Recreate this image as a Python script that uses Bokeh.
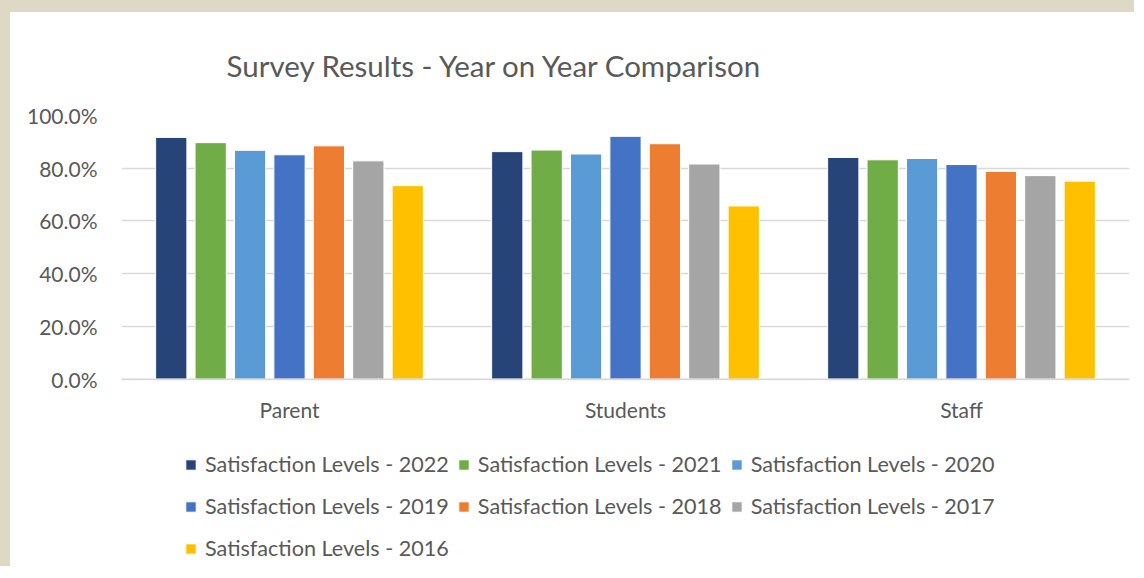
from bokeh.plotting import figure
from bokeh.models import (FactorRange, Range1d, ColumnDataSource, Legend, LegendItem,
                          FixedTicker, PrintfTickFormatter, Span)
from bokeh.core.properties import value
from bokeh.transform import dodge
from bokeh.embed import file_html
from bokeh.resources import INLINE

categories = ["Parent", "Students", "Staff"]
series_names = ["Satisfaction Levels - 2022", "Satisfaction Levels - 2021",
                "Satisfaction Levels - 2020", "Satisfaction Levels - 2019",
                "Satisfaction Levels - 2018", "Satisfaction Levels - 2017",
                "Satisfaction Levels - 2016"]
sat_2022 = [91.7, 86.3, 84.1]
sat_2021 = [89.7, 86.9, 83.2]
sat_2020 = [86.8, 85.4, 83.7]
sat_2019 = [85.1, 92.1, 81.4]
sat_2018 = [88.5, 89.3, 78.8]
sat_2017 = [82.8, 81.6, 77.2]
sat_2016 = [73.4, 65.7, 75.1]
y_ticks = [0, 20, 40, 60, 80, 100]

series_values = [sat_2022, sat_2021, sat_2020, sat_2019, sat_2018, sat_2017, sat_2016]
colors = ["#264478", "#70AD47", "#5B9BD5", "#4472C4", "#ED7D31", "#A5A5A5", "#FFC000"]
keys = ["s%d" % i for i in range(len(series_values))]

data = {"cat": categories}
for k, v in zip(keys, series_values):
    data[k] = v
source = ColumnDataSource(data)

FONT = "Lato"
TXT = "#595959"
BEIGE = "#DDD9C4"
BL, BT = 10, 12                     # beige border widths
W, H = 1144 - BL, 578 - BT
TOP, LEFT, RIGHT = 104 - BT, 121 - BL, 15
PX_PER_UNIT = 2.7                   # 270 px for 0..100 %
frame_h = H - TOP
y_start = 100 - frame_h / PX_PER_UNIT

p = figure(x_range=FactorRange(factors=categories, range_padding=0),
           y_range=Range1d(y_start, 100), width=W, height=H,
           output_backend="svg", toolbar_location=None,
           x_axis_location=None,
           min_border_left=LEFT, min_border_right=RIGHT,
           min_border_top=TOP, min_border_bottom=0,
           styles={"border-left": "%dpx solid %s" % (BL, BEIGE),
                   "border-top": "%dpx solid %s" % (BT, BEIGE)})

pitch = 0.1173
renderers = []
for i, (k, c) in enumerate(zip(keys, colors)):
    r = p.vbar(x=dodge("cat", (i - 3) * pitch, range=p.x_range), top=k,
               width=0.093, source=source, fill_color=c,
               line_color="white", line_width=1)
    renderers.append(r)

p.outline_line_color = None
p.background_fill_color = "white"
p.border_fill_color = "white"
for g in p.grid:
    if g.dimension == 0:
        g.grid_line_color = None
    else:
        g.grid_line_color = "#D9D9D9"
        g.grid_line_width = 1.5
p.yaxis.ticker = FixedTicker(ticks=y_ticks)
p.yaxis.formatter = PrintfTickFormatter(format="%.1f%%")
p.yaxis.axis_line_color = None
p.yaxis.major_tick_line_color = None
p.yaxis.minor_tick_line_color = None
p.yaxis.major_label_standoff = 18
p.yaxis.major_label_text_font = FONT
p.yaxis.major_label_text_font_size = "21px"
p.yaxis.major_label_text_color = TXT

p.add_layout(Span(location=0, dimension="width", line_color="#D9D9D9", line_width=1.5))

label_y = -31 / PX_PER_UNIT
p.text(x=categories, y=[label_y] * len(categories), text=categories,
       text_align="center", text_baseline="middle",
       text_font=value(FONT), text_font_size="21px", text_color=TXT)

p.title.text = "Survey Results - Year on Year Comparison"
p.title.text_font = FONT
p.title.text_font_size = "29.5px"
p.title.text_font_style = "normal"
p.title.text_color = TXT
p.title.align = "left"
p.title.offset = 105
p.title.standoff = 66

items = [LegendItem(label=n, renderers=[r]) for n, r in zip(series_names, renderers)]
legend = Legend(items=items, orientation="horizontal", ncols=3,
                location=(63, 13),
                glyph_width=13, glyph_height=13, label_standoff=8, spacing=8,
                label_text_font=FONT, label_text_font_size="21.6px",
                label_text_color=TXT, label_height=34,
                border_line_color=None, background_fill_alpha=0,
                padding=0, margin=0)
p.add_layout(legend, "center")

open("out.html", "w").write(file_html(p, INLINE))
